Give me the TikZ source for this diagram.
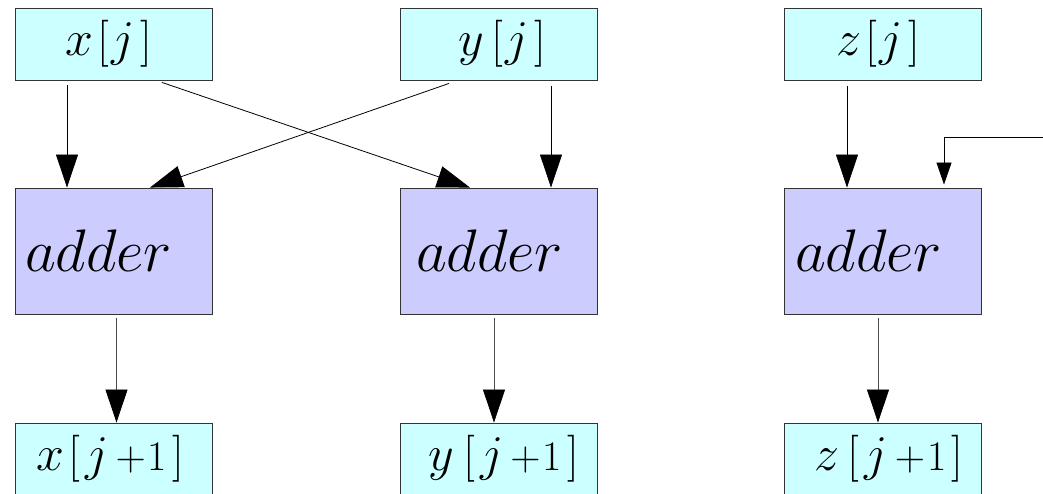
\documentclass[tikz,border=0pt]{standalone}
\usepackage{fix-cm}
\usetikzlibrary{arrows.meta,calc}
\definecolor{boxcyan}{HTML}{CCFFFF}
\definecolor{boxblue}{HTML}{CCCCFF}
\definecolor{edgegray}{HTML}{333333}
\newcommand\mybl{{\fontsize{47}{47}\selectfont[}}
\newcommand\mybr{{\fontsize{47}{47}\selectfont]}}
\newcommand\myidx[3]{\makebox[197pt][l]{\kern#1pt\fontsize{50}{50}\selectfont$#2$\kern#3pt\mybl\kern2pt$j$\kern6pt\mybr}}
\newcommand\myidxn[3]{\makebox[197pt][l]{\kern#1pt\fontsize{50}{50}\selectfont$#2$\kern#3pt\mybl\kern5pt$j$\kern7pt{\fontsize{42}{42}\selectfont$+$\kern2pt 1}\kern5pt\mybr}}
\newcommand\myadder[1]{\makebox[197pt][l]{\kern#1pt\fontsize{60}{60}\selectfont$adder$}}
\begin{document}
\begin{tikzpicture}[x=1pt,y={(0pt,-1pt)},
  iobox/.style={draw=edgegray,fill=boxcyan,line width=0.9pt,minimum width=197pt,minimum height=72pt,inner sep=0pt},
  addbox/.style={draw=edgegray,fill=boxblue,line width=0.9pt,minimum width=197pt,minimum height=126pt,inner sep=0pt},
  arr/.style={line width=0.8pt,-{Triangle[length=33pt,width=22pt,color=black]}},
  sarr/.style={line width=0.8pt,-{Triangle[length=22pt,width=15pt]}}]
\useasboundingbox (0,0) rectangle (1043,494);
\fill[white] (0,0) rectangle (1043,494);
\begin{scope}
\clip (0,0) rectangle (1043,494);
\node[iobox] (xj) at (113.5,44) {\myidx{50}{x}{5}};
\node[iobox] (yj) at (498.5,44) {\myidx{58}{y}{8}};
\node[iobox] (zj) at (882.5,44) {\myidx{52}{z}{5}};
\node[addbox] (ax) at (113.5,251) {\myadder{10}};
\node[addbox] (ay) at (498.5,251) {\myadder{16}};
\node[addbox] (az) at (882.5,251) {\myadder{11}};
\node[iobox] (xn) at (113.5,459) {\myidxn{21}{x}{5}};
\node[iobox] (yn) at (498.5,459) {\myidxn{28}{y}{10}};
\node[iobox] (zn) at (882.5,459) {\myidxn{30}{z}{9}};
\end{scope}
\coordinate (ext) at (1043,137);
\draw[arr] ($(xj.south)+(-46.5,5)$) -- ($(ax.north)+(-46.5,0)$);
\draw[arr] ($(xj.south)+(48.5,2)$) -- ($(ay.north)+(-28.5,0)$);
\draw[arr] ($(yj.south)+(-49.5,3)$) -- ($(ax.north)+(36.5,0)$);
\draw[arr] ($(yj.south)+(52.5,6)$) -- ($(ay.north)+(52.5,0)$);
\draw[arr] ($(zj.south)+(-35.5,6)$) -- ($(az.north)+(-35.5,0)$);
\draw[sarr] (ext) -| ($(az.north)+(61.5,-3)$);
\draw[arr,draw=black!70] ($(ax.south)+(3,4)$) -- ($(xn.north)+(3,0)$);
\draw[arr,draw=black!70] ($(ay.south)+(-4.5,4)$) -- ($(yn.north)+(-4.5,0)$);
\draw[arr,draw=black!70] ($(az.south)+(-4.5,4)$) -- ($(zn.north)+(-4.5,0)$);
\end{tikzpicture}
\end{document}
